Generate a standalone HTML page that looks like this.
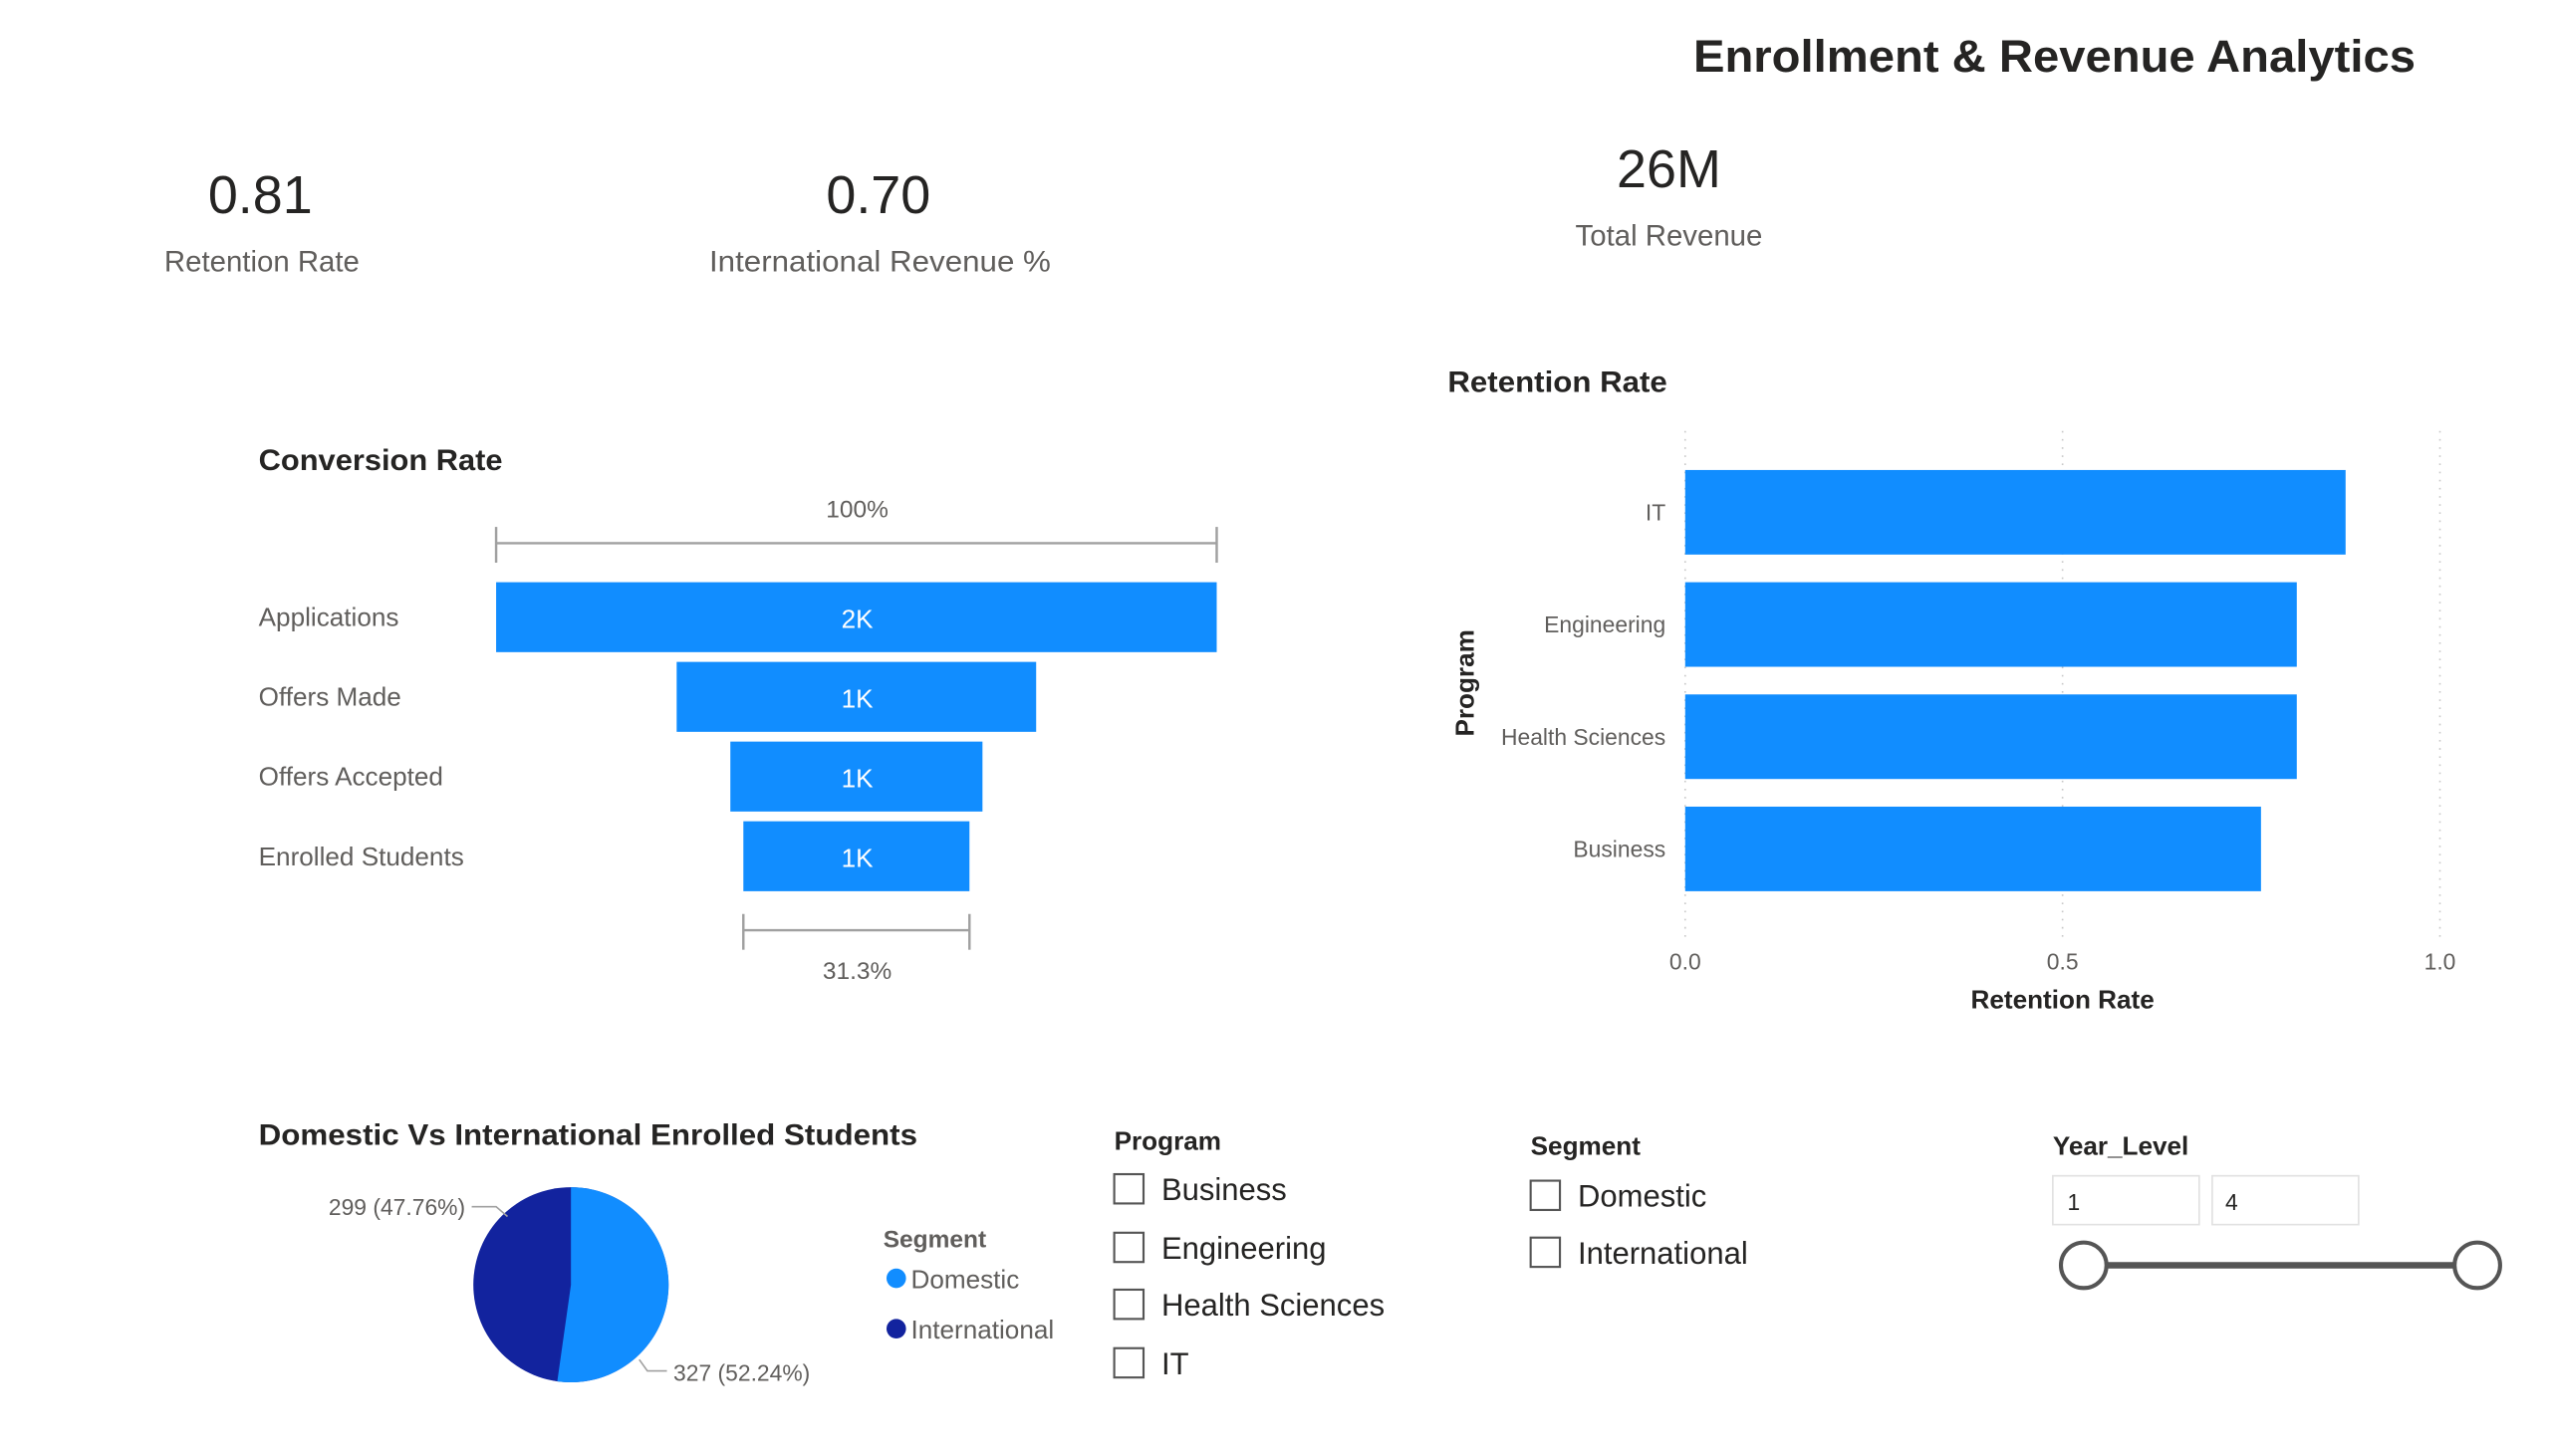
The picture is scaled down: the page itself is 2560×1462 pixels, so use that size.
<!DOCTYPE html>
<html><head><meta charset="utf-8"><style>
html,body{margin:0;padding:0;background:#fff;overflow:hidden;width:2560px;height:1460px}
#c{position:absolute;left:0;top:0;width:1570px;height:895px;transform:scale(1.633);transform-origin:0 0;font-family:"Liberation Sans",sans-serif}
</style></head><body><div id="c">
<svg width="1570" height="895" style="position:absolute;left:0;top:0" font-family="Liberation Sans, sans-serif">
<text x="1485" y="44" text-anchor="end" font-size="28" font-weight="bold" fill="#252423" textLength="444" lengthAdjust="spacingAndGlyphs">Enrollment &amp; Revenue Analytics</text>
<g fill="#252423" font-size="33" text-anchor="middle">
<text x="160" y="131">0.81</text><text x="540" y="131">0.70</text><text x="1026" y="115">26M</text></g>
<g fill="#605e5c" font-size="18" text-anchor="middle">
<text x="161" y="167">Retention Rate</text><text x="541" y="167" textLength="210" lengthAdjust="spacingAndGlyphs">International Revenue %</text><text x="1026" y="151">Total Revenue</text></g>
<text x="159" y="289" font-size="18" font-weight="bold" fill="#252423" textLength="150" lengthAdjust="spacingAndGlyphs">Conversion Rate</text>
<g stroke="#a0a0a0" stroke-width="1.5"><line x1="305" y1="334" x2="748" y2="334"/><line x1="305" y1="324" x2="305" y2="346"/><line x1="748" y1="324" x2="748" y2="346"/>
<line x1="457" y1="572" x2="596" y2="572"/><line x1="457" y1="562" x2="457" y2="584"/><line x1="596" y1="562" x2="596" y2="584"/></g>
<g fill="#605e5c" font-size="15" text-anchor="middle"><text x="527" y="318">100%</text><text x="527" y="602">31.3%</text></g>
<g fill="#118DFF"><rect x="305" y="358" width="443" height="43"/><rect x="416" y="407" width="221" height="43"/><rect x="449" y="456" width="155" height="43"/><rect x="457" y="505" width="139" height="43"/></g>
<g fill="#fff" font-size="16" text-anchor="middle"><text x="527" y="386">2K</text><text x="527" y="435">1K</text><text x="527" y="484">1K</text><text x="527" y="533">1K</text></g>
<g fill="#605e5c" font-size="16"><text x="159" y="385">Applications</text><text x="159" y="434">Offers Made</text><text x="159" y="483">Offers Accepted</text><text x="159" y="532">Enrolled Students</text></g>
<text x="890" y="241" font-size="18" font-weight="bold" fill="#252423" textLength="135" lengthAdjust="spacingAndGlyphs">Retention Rate</text>
<g stroke="#c8c8c8" stroke-dasharray="1,4"><line x1="1036" y1="265" x2="1036" y2="578"/><line x1="1268" y1="265" x2="1268" y2="578"/><line x1="1500" y1="265" x2="1500" y2="578"/></g>
<g fill="#118DFF"><rect x="1036" y="289" width="406" height="52"/><rect x="1036" y="358" width="376" height="52"/><rect x="1036" y="427" width="376" height="52"/><rect x="1036" y="496" width="354" height="52"/></g>
<g fill="#605e5c" font-size="14" text-anchor="end"><text x="1024" y="320">IT</text><text x="1024" y="389">Engineering</text><text x="1024" y="458">Health Sciences</text><text x="1024" y="527">Business</text></g>
<g fill="#605e5c" font-size="14" text-anchor="middle"><text x="1036" y="596">0.0</text><text x="1268" y="596">0.5</text><text x="1500" y="596">1.0</text></g>
<text x="1268" y="620" font-size="16" font-weight="bold" fill="#252423" text-anchor="middle">Retention Rate</text>
<text transform="translate(906,420) rotate(-90)" font-size="16" font-weight="bold" fill="#252423" text-anchor="middle">Program</text>
<text x="159" y="704" font-size="18" font-weight="bold" fill="#252423" textLength="405" lengthAdjust="spacingAndGlyphs">Domestic Vs International Enrolled Students</text>
<circle cx="351" cy="790" r="60" fill="#12239E"/>
<path d="M351,790 L351,730 A60,60 0 1,1 342.6,849.4 Z" fill="#118DFF"/>
<g stroke="#a0a0a0" fill="none"><polyline points="290,742 305,742 312,748"/><polyline points="393,836 398,843 410,843"/></g>
<g fill="#605e5c" font-size="14"><text x="202" y="747">299 (47.76%)</text><text x="414" y="849">327 (52.24%)</text></g>
<text x="543" y="767" font-size="15" font-weight="bold" fill="#605e5c">Segment</text>
<circle cx="551" cy="786" r="6" fill="#118DFF"/><circle cx="551" cy="817" r="6" fill="#12239E"/>
<g fill="#605e5c" font-size="16"><text x="560" y="792">Domestic</text><text x="560" y="823">International</text></g>
<g font-size="16" font-weight="bold" fill="#252423"><text x="685" y="707">Program</text><text x="941" y="710">Segment</text><text x="1262" y="710">Year_Level</text></g>
<g fill="none" stroke="#555" stroke-width="1.3"><rect x="685" y="722" width="18" height="18"/><rect x="685" y="758" width="18" height="18"/><rect x="685" y="793" width="18" height="18"/><rect x="685" y="829" width="18" height="18"/><rect x="941" y="726" width="18" height="18"/><rect x="941" y="761" width="18" height="18"/></g>
<g fill="#252423" font-size="19"><text x="714" y="738">Business</text><text x="714" y="774">Engineering</text><text x="714" y="809">Health Sciences</text><text x="714" y="845">IT</text><text x="970" y="742">Domestic</text><text x="970" y="777">International</text></g>
<g fill="#fff" stroke="#e1e1e1"><rect x="1262" y="723" width="90" height="30"/><rect x="1360" y="723" width="90" height="30"/></g>
<g fill="#252423" font-size="14"><text x="1271" y="744">1</text><text x="1368" y="744">4</text></g>
<line x1="1281" y1="778" x2="1523" y2="778" stroke="#555" stroke-width="4"/>
<g fill="#fff" stroke="#555" stroke-width="2.5"><circle cx="1281" cy="778" r="14"/><circle cx="1523" cy="778" r="14"/></g>
</svg></div></body></html>
